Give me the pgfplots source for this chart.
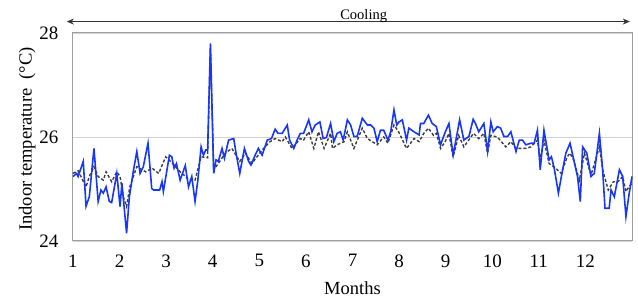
\documentclass[border=0pt]{standalone}
\usepackage{fontspec}
\setmainfont{Liberation Serif}
\usepackage{pgfplots}
\pgfplotsset{compat=1.18}
\usetikzlibrary{arrows.meta}
\definecolor{simblue}{RGB}{25,55,250}
\definecolor{simgray}{RGB}{60,60,60}
\begin{document}
\begin{tikzpicture}
\begin{axis}[
  scale only axis, width=559pt, height=208pt,
  xmin=1, xmax=13, ymin=24, ymax=28,
  xtick={1,...,12}, ytick={24,26,28},
  major tick length=0pt,
  axis line style={draw=gray!75, line width=1pt},
  ymajorgrids, grid style={gray!35, line width=0.8pt},
  tick label style={font=\fontsize{19}{22}\selectfont},
  /pgf/number format/assume math mode=true,
  yticklabel style={anchor=east, xshift=-11pt},
  xticklabel style={anchor=north, yshift=-10pt},
  xlabel={Months}, ylabel={Indoor temperature\ \ (°C)},
  label style={font=\fontsize{18.5}{21}\selectfont},
  xlabel style={at={(axis description cs:0.5,-0.226)}, anchor=center},
  ylabel style={at={(axis description cs:-0.082,0.49)}, anchor=center},
  clip=false,
]
\addplot[simgray, line width=1.4pt, dash pattern=on 3pt off 2pt] coordinates {
(1.00,25.30)(1.11,25.35)(1.28,25.04)(1.35,25.24)(1.45,25.43)(1.54,25.24)(1.65,25.17)(1.71,25.33)
(1.83,25.14)(1.94,25.33)(2.01,25.24)(2.08,24.85)(2.15,24.66)(2.22,25.04)(2.37,25.43)(2.56,25.33)
(2.70,25.40)(2.84,25.30)(2.99,25.62)(3.14,25.49)(3.33,25.30)(3.41,25.25)(3.48,25.17)(3.62,25.17)
(3.75,25.62)(3.89,25.60)(3.95,27.70)(4.02,25.37)(4.12,25.49)(4.27,25.69)(4.41,25.78)(4.58,25.53)
(4.70,25.69)(4.84,25.49)(5.01,25.69)(5.12,25.81)(5.23,25.91)(5.34,25.97)(5.49,25.91)(5.56,26.00)
(5.70,25.78)(5.88,25.97)(5.95,25.94)(6.06,26.10)(6.17,25.78)(6.27,26.10)(6.39,25.78)(6.53,26.07)
(6.57,25.78)(6.67,25.85)(6.82,25.91)(6.89,26.10)(7.03,25.78)(7.21,26.17)(7.32,25.97)(7.53,25.85)
(7.67,26.00)(7.76,25.88)(7.89,26.23)(7.99,26.10)(8.16,25.78)(8.32,25.97)(8.43,25.91)(8.53,26.07)
(8.63,26.17)(8.74,26.03)(8.80,26.07)(8.89,25.78)(8.99,25.91)(9.07,26.07)(9.16,25.62)(9.28,26.03)
(9.39,25.81)(9.60,26.07)(9.71,25.97)(9.82,26.07)(9.90,25.69)(9.97,26.03)(10.11,26.00)(10.29,25.81)
(10.40,25.91)(10.51,25.78)(10.72,25.78)(10.83,25.81)(10.97,25.94)(11.03,25.56)(11.11,25.94)(11.22,25.49)
(11.36,25.40)(11.48,25.30)(11.61,25.62)(11.67,25.69)(11.75,25.55)(11.87,25.17)(11.98,25.69)(12.12,25.27)
(12.30,25.81)(12.37,25.37)(12.49,24.98)(12.60,25.14)(12.70,25.14)(12.80,25.24)(12.87,24.95)(12.94,25.05)
(13.00,25.11)
};
\addplot[simblue, line width=1.6pt] coordinates {
(1.00,25.24)(1.08,25.30)(1.11,25.24)(1.22,25.53)(1.28,24.67)(1.35,24.85)(1.45,25.78)(1.54,24.76)
(1.60,24.98)(1.65,24.92)(1.71,25.04)(1.78,24.76)(1.83,24.74)(1.94,25.30)(2.01,24.66)(2.05,25.11)
(2.15,24.15)(2.21,24.85)(2.30,25.37)(2.37,25.72)(2.44,25.30)(2.51,25.43)(2.61,25.88)(2.69,25.01)
(2.73,24.98)(2.86,24.98)(2.91,25.14)(2.94,24.95)(3.07,25.65)(3.12,25.62)(3.17,25.40)(3.22,25.49)
(3.30,25.17)(3.41,25.45)(3.48,25.04)(3.55,25.24)(3.62,24.76)(3.68,25.17)(3.75,25.81)(3.80,25.65)
(3.85,25.75)(3.89,25.75)(3.95,27.80)(4.02,25.30)(4.07,25.56)(4.12,25.53)(4.20,25.78)(4.25,25.59)
(4.34,25.94)(4.45,25.97)(4.50,25.69)(4.58,25.30)(4.68,25.78)(4.77,25.53)(4.82,25.46)(4.91,25.65)
(4.98,25.78)(5.06,25.65)(5.17,25.94)(5.26,25.97)(5.34,26.15)(5.40,26.07)(5.49,26.07)(5.60,26.23)
(5.65,25.94)(5.74,25.78)(5.81,25.94)(5.88,26.07)(5.95,26.07)(6.06,26.33)(6.13,26.10)(6.20,26.23)
(6.30,26.29)(6.37,25.97)(6.44,25.99)(6.53,26.26)(6.60,25.91)(6.67,26.07)(6.74,26.10)(6.80,25.94)
(6.89,26.33)(6.96,26.23)(7.03,26.01)(7.10,26.01)(7.21,26.36)(7.32,26.23)(7.39,26.23)(7.46,26.17)
(7.53,25.91)(7.60,26.13)(7.67,26.13)(7.76,25.94)(7.82,26.10)(7.89,26.52)(7.95,26.23)(8.00,26.29)
(8.07,26.33)(8.16,25.94)(8.21,26.17)(8.32,26.10)(8.43,26.04)(8.46,26.26)(8.53,26.26)(8.63,26.42)
(8.71,26.26)(8.80,26.20)(8.89,25.85)(8.98,26.07)(9.07,26.26)(9.16,25.65)(9.22,25.94)(9.30,26.33)
(9.39,25.94)(9.50,26.01)(9.59,26.34)(9.64,26.26)(9.71,26.10)(9.82,26.26)(9.90,25.72)(9.97,26.29)
(10.02,26.10)(10.11,26.20)(10.18,26.17)(10.25,26.01)(10.33,26.01)(10.40,26.10)(10.51,25.72)(10.58,25.94)
(10.65,25.94)(10.72,25.85)(10.83,25.88)(10.90,25.88)(10.97,26.13)(11.03,25.37)(11.11,26.13)(11.22,25.56)
(11.27,25.62)(11.33,25.40)(11.42,24.92)(11.49,25.27)(11.58,25.69)(11.67,25.88)(11.75,25.56)(11.83,25.24)
(11.89,24.76)(11.94,25.81)(12.03,25.69)(12.12,25.24)(12.19,25.30)(12.30,26.07)(12.37,25.37)(12.42,24.63)
(12.51,24.63)(12.55,24.98)(12.62,24.85)(12.73,25.37)(12.80,25.24)(12.87,24.47)(12.94,24.92)(13.00,25.24)
};
\draw[{Stealth[length=7pt,width=6pt]}-{Stealth[length=7pt,width=6pt]}, line width=0.8pt, black!80]
  (rel axis cs:-0.011,1.055) -- (rel axis cs:0.996,1.055);
\node[font=\fontsize{14.5}{16}\selectfont, anchor=base] at (rel axis cs:0.52,1.065) {Cooling};
\end{axis}
\path ([shift={(-73pt,-59pt)}]current axis.south west) rectangle ([shift={(6pt,33pt)}]current axis.north east);
\end{tikzpicture}
\end{document}
